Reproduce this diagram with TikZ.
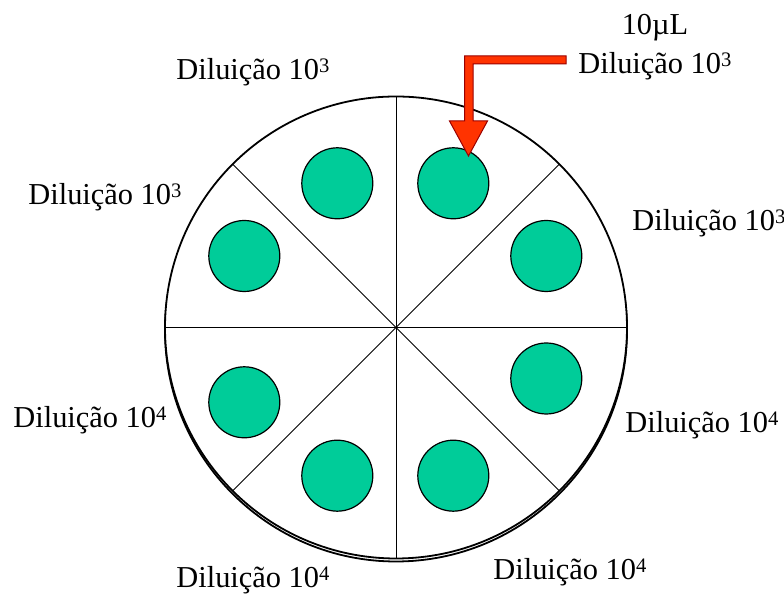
\documentclass[tikz,border=0pt]{standalone}
\usepackage{fontspec}
\setmainfont{Liberation Serif}
\usepackage{xcolor}
\definecolor{wellgreen}{RGB}{0,204,153}
\definecolor{tipred}{RGB}{255,51,0}
\usepackage{tikz}
\usetikzlibrary{positioning}
\newcommand{\dilpow}[1]{\raisebox{3.8pt}{\fontsize{10.3}{11}\selectfont #1}}

\begin{document}
\begin{tikzpicture}[x=0.5pt,y=-0.5pt,
      plate/.style={draw=black,line width=0.9pt,fill=white},
      sector/.style={draw=black,line width=0.5pt},
      well/.style={circle,draw=black,line width=0.6pt,fill=wellgreen,minimum size=35.5pt,inner sep=0pt},
      lab/.style={font=\fontsize{15.2}{18}\selectfont,inner sep=0pt,anchor=base west},
      tip/.style={draw=red!60!black,line width=0.5pt,fill=tipred}]
    \useasboundingbox (0,0) rectangle (784,597);
    % plate with its shadow rim
    \coordinate (c) at (396,327.5);
    \draw[plate] (396,330.5) circle[radius=115.5pt];
    \draw[plate] (c) circle[radius=115.5pt];
    % eight sectors
    \foreach \a in {0,45,...,315} {
      \draw[sector] (c) -- ++(\a:115.5pt);
    }
    % one drop per sector
    \foreach \x/\y [count=\i] in {453.3/183.3, 546.3/256, 546.3/378.5, 453.3/475.7,
                                  337.3/475.7, 244.3/402.3, 244.3/256, 337.3/183.3} {
      \node[well] (w\i) at (\x,\y) {};
    }
    % pipette arrow onto the first drop
    \draw[tip] (566,56) -- (464.5,56) -- (464.5,121) -- (449.5,121) -- (468.5,156)
      -- (487.5,121) -- (473,121) -- (473,64) -- (566,64) -- cycle;
    \node[lab,anchor=base] (vol) at (655,35) {10µL};
    \node[lab] (d1) at (578,74) {Diluição 10\dilpow{3}};
    % dilution labels round the plate
    \node[lab] (d2) at (632,231) {Diluição 10\dilpow{3}};
    \node[lab] (d3) at (625,433) {Diluição 10\dilpow{4}};
    \node[lab] (d4) at (493,580) {Diluição 10\dilpow{4}};
    \node[lab] (d5) at (176,588) {Diluição 10\dilpow{4}};
    \node[lab] (d6) at (13,428) {Diluição 10\dilpow{4}};
    \node[lab] (d7) at (28,205) {Diluição 10\dilpow{3}};
    \node[lab] (d8) at (176,80) {Diluição 10\dilpow{3}};
  \end{tikzpicture}
\end{document}
